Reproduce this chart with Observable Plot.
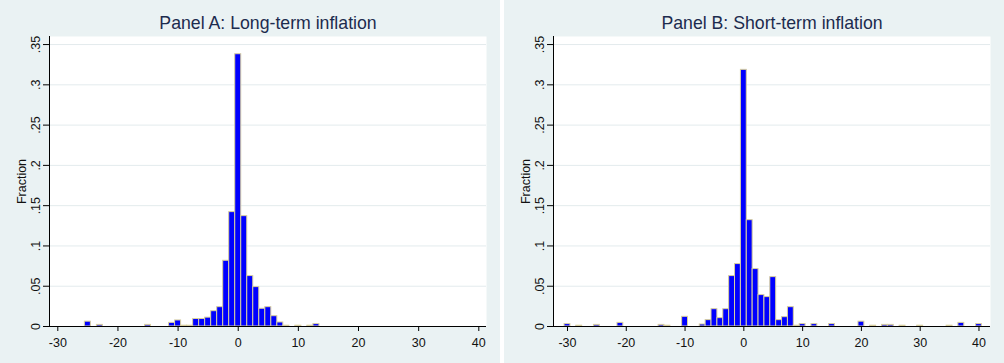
<!DOCTYPE html>
<html><head><meta charset="utf-8">
<script src="https://cdn.jsdelivr.net/npm/d3@7"></script>
<script src="https://cdn.jsdelivr.net/npm/@observablehq/plot@0.6"></script>
<style>
html,body{margin:0;padding:0;background:#fff;}
#wrap{display:flex;gap:4px;width:1004px;height:363px;}
#wrap svg{display:block;flex:none;}
</style></head><body><div id="wrap"></div>
<script>
const titles = ["Panel A: Long-term inflation", "Panel B: Short-term inflation"];
const yLabel = "Fraction";
const xTicks = [-30, -20, -10, 0, 10, 20, 30, 40];
const xTickLabels = ["-30", "-20", "-10", "0", "10", "20", "30", "40"];
const yTicks = [0, 0.05, 0.1, 0.15, 0.2, 0.25, 0.3, 0.35];
const yTickLabels = ["0", ".05", ".1", ".15", ".2", ".25", ".3", ".35"];

// Panel A: long-term inflation (bin centre, fraction)
const binsA = [-25, -23, -15, -11, -10, -9, -8, -7, -6, -5, -4, -3, -2, -1, 0, 1, 2, 3, 4, 5, 6, 7, 8, 10, 12, 13];
const fracA = [0.006, 0.002, 0.002, 0.0045, 0.0075, 0.001, 0.001, 0.0093, 0.0093, 0.011, 0.019, 0.024, 0.0816, 0.142, 0.338, 0.137, 0.0626, 0.0489, 0.022, 0.024, 0.0128, 0.005, 0.001, 0.001, 0.001, 0.003];

// Panel B: short-term inflation
const binsB = [-30, -28, -25, -21, -14, -13, -10, -7, -6, -5, -4, -3, -2, -1, 0, 1, 2, 3, 4, 5, 6, 7, 8, 9, 10, 12, 15, 20, 22, 24, 25, 27, 30, 35, 37, 40];
const fracB = [0.003, 0.001, 0.002, 0.0045, 0.002, 0.001, 0.012, 0.0025, 0.0079, 0.0215, 0.0104, 0.0215, 0.0626, 0.0775, 0.3186, 0.132, 0.0713, 0.039, 0.0365, 0.0613, 0.0079, 0.0116, 0.024, 0.001, 0.003, 0.003, 0.003, 0.006, 0.001, 0.002, 0.002, 0.001, 0.001, 0.001, 0.0045, 0.003];

function panel(title, bins, fracs, xDomain) {
  const data = bins.map((b, i) => ({bin: b, frac: fracs[i]}));
  return Plot.plot({
    width: 500, height: 363,
    marginTop: 36, marginBottom: 37, marginLeft: 49, marginRight: 14,
    style: {background: "#eaf2f3", fontFamily: "'Liberation Sans', Arial, sans-serif", fontSize: "12.5px", color: "#111", overflow: "visible"},
    x: {domain: xDomain, axis: null},
    y: {domain: [0, 0.36], axis: null},
    marks: [
      Plot.frame({fill: "white", stroke: null}),
      Plot.gridY(yTicks.filter(d => d > 0), {stroke: "#e3ebed", strokeOpacity: 1}),
      Plot.rect(data, {x1: d => d.bin - 0.5, x2: d => d.bin + 0.5, y1: 0, y2: "frac", fill: "#0000ff", stroke: "#d8cf9f", strokeWidth: 1}),
      Plot.axisX({ticks: xTicks, tickFormat: d => xTickLabels[xTicks.indexOf(d)], tickSize: 5, tickPadding: 7, label: null, stroke: "#000", fill: "#111", fontSize: 12.5}),
      Plot.axisY({ticks: yTicks, tickFormat: () => "", tickSize: 6, label: null, stroke: "#000"}),
      Plot.ruleY([0], {stroke: "#000"}),
      Plot.ruleX([xDomain[0]], {stroke: "#000"}),
      Plot.text(yTicks, {y: d => d, text: (d, i) => yTickLabels[i], frameAnchor: "left", rotate: -90, dx: -14, lineAnchor: "middle", textAnchor: "middle", fill: "#111", fontSize: 12.5}),
      Plot.text([yLabel], {frameAnchor: "left", rotate: -90, dx: -28, lineAnchor: "middle", textAnchor: "middle", fill: "#111", fontSize: 12.5}),
      Plot.text([title], {frameAnchor: "top", lineAnchor: "bottom", dy: -7.7, fontSize: 17.7, fill: "#1c2b4e"})
    ]
  });
}

const wrap = document.getElementById("wrap");
wrap.appendChild(panel(titles[0], binsA, fracA, [-31.38, 41.28]));
wrap.appendChild(panel(titles[1], binsB, fracB, [-32.38, 41.96]));
</script>
</body></html>
